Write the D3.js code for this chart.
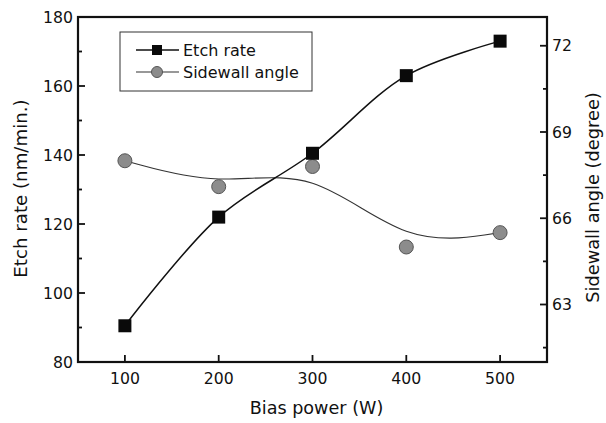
<!DOCTYPE html>
<html>
<head>
<meta charset="utf-8">
<script src="https://cdn.jsdelivr.net/npm/d3@7"></script>
<style>
  body { margin: 0; background: #fff; }
  text { font-family: "DejaVu Sans", sans-serif; fill: #111; }
</style>
</head>
<body>
<div id="viz"></div>
<script>
// data
var power = [100, 200, 300, 400, 500];
var etchRate = [90.5, 122, 140.5, 163, 173];
var sidewall = [68.0, 67.1, 67.8, 65.0, 65.5];
var xTicks = [100, 200, 300, 400, 500];
var leftTicks = [80, 100, 120, 140, 160, 180];
var rightTicks = [63, 66, 69, 72];

var w = 606, h = 423;
var margin = {top: 17, right: 59, bottom: 61, left: 78};
var width = w - margin.left - margin.right,
    height = h - margin.top - margin.bottom;

var x = d3.scaleLinear().domain([50, 550]).range([0, width]);
var yL = d3.scaleLinear().domain([80, 180]).range([height, 0]);
var yR = d3.scaleLinear().domain([61, 73]).range([height, 0]);

var svg = d3.select("#viz").append("svg")
  .attr("width", w).attr("height", h);
var g = svg.append("g")
  .attr("transform", "translate(" + margin.left + "," + margin.top + ")");

// frame
g.append("rect").attr("width", width).attr("height", height)
  .attr("fill", "none").attr("stroke", "#111").attr("stroke-width", 2.2);

// ticks, drawn inward
var tk = g.append("g").attr("stroke", "#111").attr("stroke-width", 1.8);
d3.range(80, 181, 10).forEach(function(v) {
  var L = v % 20 === 0 ? 7 : 4;
  tk.append("line").attr("x1", 0).attr("x2", L).attr("y1", yL(v)).attr("y2", yL(v));
});
d3.range(61.5, 73, 1.5).forEach(function(v) {
  var L = rightTicks.indexOf(v) >= 0 ? 7 : 4;
  tk.append("line").attr("x1", width).attr("x2", width - L).attr("y1", yR(v)).attr("y2", yR(v));
});
xTicks.forEach(function(v) {
  tk.append("line").attr("x1", x(v)).attr("x2", x(v)).attr("y1", height).attr("y2", height - 7);
});

// tick labels
var fs = 15.7;
leftTicks.forEach(function(v) {
  g.append("text").attr("x", -5).attr("y", yL(v)).attr("dy", "0.36em")
    .attr("text-anchor", "end").style("font-size", fs + "px").text(v);
});
rightTicks.forEach(function(v) {
  g.append("text").attr("x", width + 5).attr("y", yR(v)).attr("dy", "0.36em")
    .style("font-size", fs + "px").text(v);
});
xTicks.forEach(function(v) {
  g.append("text").attr("x", x(v)).attr("y", height + 22)
    .attr("text-anchor", "middle").style("font-size", fs + "px").text(v);
});

// axis titles
g.append("text").attr("x", width / 2 + 4).attr("y", height + 52)
  .attr("text-anchor", "middle").style("font-size", "17.6px").text("Bias power (W)");
g.append("text").attr("transform", "translate(-51," + (height / 2 - 1) + ") rotate(-90)")
  .attr("text-anchor", "middle").style("font-size", "18.2px").text("Etch rate (nm/min.)");
g.append("text").attr("transform", "translate(" + (width + 52) + "," + (height / 2 + 8) + ") rotate(-90)")
  .attr("text-anchor", "middle").style("font-size", "17.8px").text("Sidewall angle (degree)");

// curves
var etchLine = d3.line().x(function(d, i) { return x(power[i]); })
  .y(function(d) { return yL(d); }).curve(d3.curveCatmullRom.alpha(0.5));
var sideLine = d3.line().x(function(d, i) { return x(power[i]); })
  .y(function(d) { return yR(d); }).curve(d3.curveBasis);

g.append("path").attr("d", sideLine(sidewall))
  .attr("fill", "none").attr("stroke", "#333").attr("stroke-width", 1.1);
g.append("path").attr("d", etchLine(etchRate))
  .attr("fill", "none").attr("stroke", "#111").attr("stroke-width", 1.5);

// markers
g.selectAll("circle.side").data(sidewall).enter().append("circle")
  .attr("class", "side")
  .attr("cx", function(d, i) { return x(power[i]); })
  .attr("cy", function(d) { return yR(d); })
  .attr("r", 7).attr("fill", "#8c8c8c").attr("stroke", "#555").attr("stroke-width", 1);
g.selectAll("rect.etch").data(etchRate).enter().append("rect")
  .attr("class", "etch")
  .attr("x", function(d, i) { return x(power[i]) - 6.5; })
  .attr("y", function(d) { return yL(d) - 6.5; })
  .attr("width", 13).attr("height", 13).attr("fill", "#0a0a0a");

// legend
var lg = svg.append("g").attr("transform", "translate(120,32)");
lg.append("rect").attr("width", 192).attr("height", 59)
  .attr("fill", "#fff").attr("stroke", "#333").attr("stroke-width", 1);
lg.append("line").attr("x1", 16).attr("x2", 59).attr("y1", 18).attr("y2", 18)
  .attr("stroke", "#111").attr("stroke-width", 1.3);
lg.append("rect").attr("x", 32).attr("y", 13).attr("width", 10).attr("height", 10).attr("fill", "#0a0a0a");
lg.append("text").attr("x", 63).attr("y", 18).attr("dy", "0.36em").style("font-size", "16px").text("Etch rate");
lg.append("line").attr("x1", 16).attr("x2", 59).attr("y1", 40).attr("y2", 40)
  .attr("stroke", "#333").attr("stroke-width", 1.1);
lg.append("circle").attr("cx", 37).attr("cy", 40).attr("r", 5.5)
  .attr("fill", "#8c8c8c").attr("stroke", "#555");
lg.append("text").attr("x", 63).attr("y", 40).attr("dy", "0.36em").style("font-size", "16px").text("Sidewall angle");
</script>
</body>
</html>
